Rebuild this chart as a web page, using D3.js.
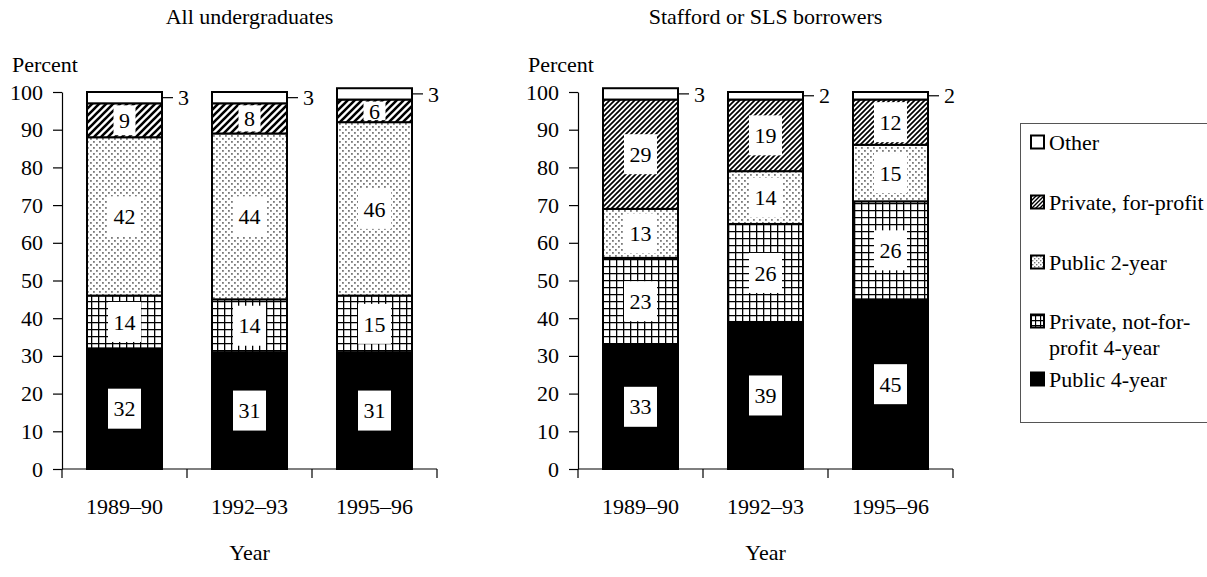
<!DOCTYPE html>
<html><head><meta charset="utf-8">
<script src="https://cdn.jsdelivr.net/npm/d3@7"></script>
<style>
body{margin:0;background:#fff;}
svg text{font-family:"Liberation Serif","Times New Roman",Times,serif !important;fill:#000;}
</style></head>
<body><svg id="c" width="1207" height="577" font-family="Liberation Serif"></svg>
<script>
const categories = ["1989–90", "1992–93", "1995–96"];
const seriesKeys = ["p4", "pnfp", "p2", "pfp", "other"];
const seriesNames = ["Public 4-year", "Private, not-for-profit 4-year", "Public 2-year", "Private, for-profit", "Other"];
// All undergraduates
const allPublic4 = [32, 31, 31];
const allPrivNFP = [14, 14, 15];
const allPublic2 = [42, 44, 46];
const allPrivFP = [9, 8, 6];
const allOther = [3, 3, 3];
// Stafford or SLS borrowers
const stfPublic4 = [33, 39, 45];
const stfPrivNFP = [23, 26, 26];
const stfPublic2 = [13, 14, 15];
const stfPrivFP = [29, 19, 12];
const stfOther = [3, 2, 2];
const yTicks = [0, 10, 20, 30, 40, 50, 60, 70, 80, 90, 100];

const FS = 22;
const svg = d3.select("#c");
const defs = svg.append("defs");

function hatch(id, s, w) {
  const p = defs.append("pattern").attr("id", id).attr("patternUnits", "userSpaceOnUse")
    .attr("width", s).attr("height", s);
  p.append("rect").attr("width", s).attr("height", s).attr("fill", "#fff");
  p.append("path").attr("d", `M${-s},${s} L${s},${-s} M0,${s} L${s},0 M0,${2*s} L${2*s},0`)
    .attr("stroke", "#000").attr("stroke-width", w).attr("fill", "none");
}
hatch("hatchL", 7, 2.6);
hatch("hatchR", 5, 1.7);
hatch("hatchLeg", 4, 1.4);

function grid(id, s, w) {
  const p = defs.append("pattern").attr("id", id).attr("patternUnits", "userSpaceOnUse")
    .attr("width", s).attr("height", s);
  p.append("rect").attr("width", s).attr("height", s).attr("fill", "#fff");
  p.append("path").attr("d", `M0,0.5 H${s} M0.5,0 V${s}`).attr("stroke", "#000").attr("stroke-width", w);
}
grid("grid", 7, 1.6);
grid("gridLeg", 5, 1.3);

function dots(id, s, r) {
  const p = defs.append("pattern").attr("id", id).attr("patternUnits", "userSpaceOnUse")
    .attr("width", s).attr("height", s);
  p.append("rect").attr("width", s).attr("height", s).attr("fill", "#fff");
  p.append("rect").attr("x", 0).attr("y", 0).attr("width", r).attr("height", r).attr("fill", "#7a7a7a");
  p.append("rect").attr("x", s/2).attr("y", s/2).attr("width", r).attr("height", r).attr("fill", "#7a7a7a");
}
dots("dots", 6, 1.8);
dots("dotsLeg", 4, 1.4);

const fills = {
  L: {p4: "#000", pnfp: "url(#grid)", p2: "url(#dots)", pfp: "url(#hatchL)", other: "#fff"},
  R: {p4: "#000", pnfp: "url(#grid)", p2: "url(#dots)", pfp: "url(#hatchR)", other: "#fff"}
};

const y = d3.scaleLinear().domain([0, 100]).range([469, 92]);

function panel(x0, title, arrays, side) {
  const data = categories.map((c, i) => ({
    cat: c, p4: arrays[0][i], pnfp: arrays[1][i], p2: arrays[2][i], pfp: arrays[3][i], other: arrays[4][i]
  }));
  const x = d3.scaleBand().domain(categories).range([x0, x0 + 375]).paddingInner(0.4).paddingOuter(0.2);
  const g = svg.append("g");
  const cx = x0 + 187.5;
  g.append("text").attr("x", cx).attr("y", 24).attr("text-anchor", "middle").attr("font-size", FS).text(title);
  g.append("text").attr("x", x0 - 50).attr("y", 72).attr("font-size", FS).text("Percent");
  g.append("text").attr("x", cx).attr("y", 560).attr("text-anchor", "middle").attr("font-size", FS).text("Year");

  const ya = g.append("g").attr("transform", `translate(${x0},0)`)
    .call(d3.axisLeft(y).tickValues(yTicks).tickSize(9).tickPadding(10).tickSizeOuter(0));
  ya.attr("font-family", "Liberation Serif");
  ya.select(".domain").attr("stroke", "#000").attr("stroke-width", 1.2);
  ya.selectAll(".tick line").attr("stroke", "#000").attr("stroke-width", 1.2);
  ya.selectAll(".tick text").attr("font-size", FS).attr("fill", "#000");

  const xa = g.append("g");
  xa.append("line").attr("x1", x0).attr("x2", x0 + 375).attr("y1", y(0)).attr("y2", y(0))
    .attr("stroke", "#000").attr("stroke-width", 1.2);
  const edges = categories.map((c, i) => x0 + x.step() * (i + 1));
  [x0].concat(edges).forEach(e => {
    xa.append("line").attr("x1", e).attr("x2", e).attr("y1", y(0)).attr("y2", y(0) + 9)
      .attr("stroke", "#000").attr("stroke-width", 1.2);
  });
  categories.forEach(c => {
    xa.append("text").attr("x", x(c) + x.bandwidth() / 2).attr("y", 514).attr("text-anchor", "middle")
      .attr("font-size", FS).text(c);
  });

  const stack = d3.stack().keys(seriesKeys)(data);
  stack.forEach(layer => {
    const key = layer.key;
    layer.forEach(d => {
      const bx = x(d.data.cat), bw = x.bandwidth();
      const top = y(d[1]), bot = y(d[0]);
      g.append("rect").attr("x", bx).attr("y", top).attr("width", bw).attr("height", bot - top)
        .attr("fill", fills[side][key]).attr("stroke", "#000").attr("stroke-width", 2);
    });
  });
  stack.forEach(layer => {
    const key = layer.key;
    layer.forEach(d => {
      const v = d.data[key];
      const bx = x(d.data.cat), bw = x.bandwidth();
      const top = y(d[1]), bot = y(d[0]);
      const my = (top + bot) / 2;
      if (key === "other") {
        g.append("line").attr("x1", bx + bw + 1).attr("x2", bx + bw + 11).attr("y1", my).attr("y2", my)
          .attr("stroke", "#000").attr("stroke-width", 1.2);
        g.append("text").attr("x", bx + bw + 16).attr("y", my).attr("dy", "0.35em").attr("font-size", FS).text(v);
      } else {
        const t = g.append("text").attr("x", bx + bw / 2).attr("y", my).attr("dy", "0.35em")
          .attr("text-anchor", "middle").attr("font-size", FS).text(v);
        const tw = t.node().getComputedTextLength();
        const bwid = tw + 11;
        const bh = Math.min(40, bot - top - 4);
        g.insert("rect", () => t.node()).attr("x", bx + bw / 2 - bwid / 2).attr("y", my - bh / 2)
          .attr("width", bwid).attr("height", bh).attr("fill", "#fff");
      }
    });
  });
}

panel(62, "All undergraduates", [allPublic4, allPrivNFP, allPublic2, allPrivFP, allOther], "L");
panel(578, "Stafford or SLS borrowers", [stfPublic4, stfPrivNFP, stfPublic2, stfPrivFP, stfOther], "R");

const leg = svg.append("g");
leg.append("rect").attr("x", 1020.5).attr("y", 123.5).attr("width", 200).attr("height", 299)
  .attr("fill", "#fff").attr("stroke", "#555").attr("stroke-width", 1);
const legFills = {other: "#fff", pfp: "url(#hatchLeg)", p2: "url(#dotsLeg)", pnfp: "url(#gridLeg)", p4: "#000"};
const legItems = [
  {key: "other", lines: ["Other"], y: 142},
  {key: "pfp", lines: ["Private, for-profit"], y: 202},
  {key: "p2", lines: ["Public 2-year"], y: 262},
  {key: "pnfp", lines: ["Private, not-for-", "profit 4-year"], y: 321},
  {key: "p4", lines: ["Public 4-year"], y: 379}
];
legItems.forEach(it => {
  leg.append("rect").attr("x", 1031).attr("y", it.y - 6.5).attr("width", 13).attr("height", 13)
    .attr("fill", legFills[it.key]).attr("stroke", "#000").attr("stroke-width", 2);
  it.lines.forEach((l, j) => {
    leg.append("text").attr("x", 1049).attr("y", it.y + j * 26).attr("dy", "0.35em").attr("font-size", FS).text(l);
  });
});
</script></body></html>
